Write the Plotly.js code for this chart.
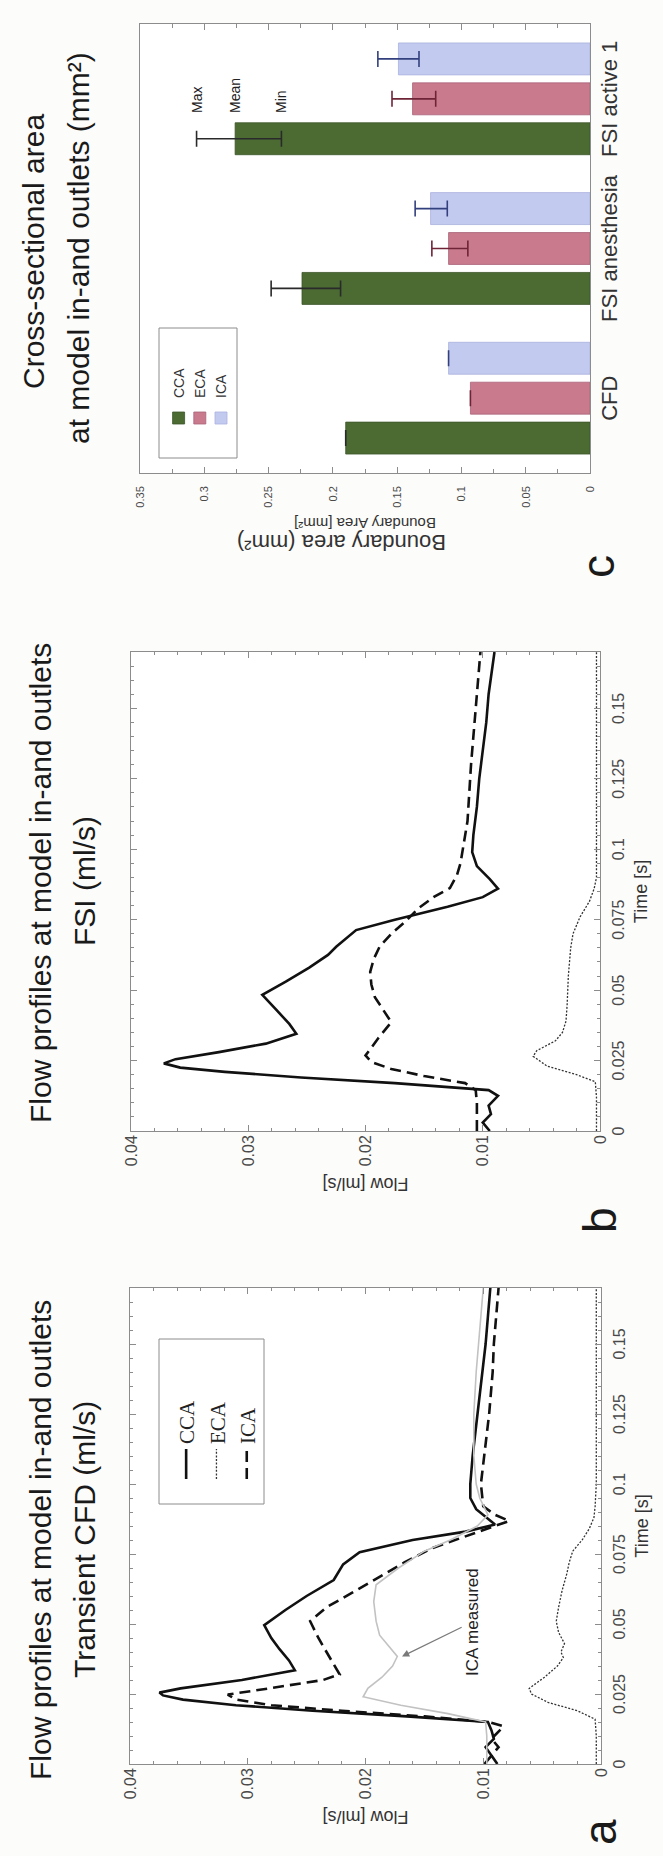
<!DOCTYPE html>
<html>
<head>
<meta charset="utf-8">
<script src="https://cdn.plot.ly/plotly-3.0.1.min.js"></script>
<style>
html,body{margin:0;padding:0;background:#fcfcfa;}
#wrap{position:absolute;left:0;top:0;width:663px;height:1856px;overflow:hidden;background:#fcfcfa;}
#plot{position:absolute;left:0;top:0;width:1856px;height:663px;transform-origin:0 0;transform:translate(0px,1856px) rotate(-90deg);}
</style>
</head>
<body>
<div id="wrap"><div id="plot"></div></div>
<script>
// ---------- Panel a : transient CFD ----------
const tA_cca = [0,0.003,0.006,0.009,0.012,0.015,0.017,0.019,0.021,0.023,0.0245,0.0255,0.027,0.030,0.0335,0.037,0.041,0.045,0.0496,0.055,0.060,0.0657,0.0713,0.0756,0.080,0.083,0.0855,0.088,0.091,0.095,0.100,0.110,0.125,0.140,0.150,0.160,0.170];
const fA_cca = [0.0099,0.0093,0.0098,0.0091,0.0093,0.0096,0.0165,0.0245,0.031,0.0355,0.0372,0.0375,0.0357,0.0305,0.0260,0.0265,0.0273,0.0280,0.0286,0.0268,0.0250,0.0227,0.0219,0.0205,0.0160,0.0115,0.0090,0.0097,0.0106,0.0111,0.0111,0.0109,0.0105,0.0101,0.0098,0.0096,0.0094];

const tA_eca = [0,0.010,0.016,0.019,0.022,0.025,0.027,0.031,0.035,0.038,0.040,0.043,0.047,0.051,0.056,0.062,0.068,0.072,0.076,0.080,0.084,0.088,0.092,0.100,0.120,0.140,0.170];
const fA_eca = [0.0004,0.0004,0.0005,0.0020,0.0045,0.0059,0.0061,0.0048,0.0037,0.0032,0.0034,0.0031,0.0036,0.0038,0.0036,0.0033,0.0029,0.0027,0.0024,0.0016,0.0010,0.0006,0.0005,0.0004,0.0004,0.0004,0.0004];

const tA_ica = [0,0.003,0.006,0.009,0.012,0.0135,0.015,0.017,0.019,0.021,0.023,0.0248,0.027,0.030,0.032,0.035,0.040,0.045,0.051,0.056,0.061,0.067,0.072,0.077,0.081,0.084,0.0868,0.089,0.092,0.100,0.110,0.125,0.140,0.150,0.160,0.170];
const fA_ica = [0.0088,0.0093,0.0087,0.0093,0.0086,0.0083,0.0095,0.0150,0.0220,0.0280,0.0310,0.0317,0.0282,0.0236,0.0222,0.0226,0.0233,0.0240,0.0247,0.0233,0.0212,0.0187,0.0167,0.0144,0.0117,0.0095,0.0078,0.0090,0.0100,0.0102,0.0099,0.0095,0.0092,0.0091,0.0089,0.0087];

const tA_meas = [0,0.010,0.015,0.018,0.021,0.024,0.027,0.031,0.035,0.0384,0.042,0.046,0.051,0.058,0.064,0.070,0.076,0.080,0.085,0.089,0.095,0.100,0.110,0.125,0.140,0.150,0.160,0.170];
const fA_meas = [0.0097,0.0097,0.0098,0.0130,0.0170,0.0202,0.0198,0.0186,0.0177,0.0173,0.0180,0.0188,0.0191,0.0193,0.0191,0.0172,0.0150,0.0128,0.0105,0.0096,0.0103,0.0106,0.0108,0.0108,0.0106,0.0104,0.0102,0.0100];

// ---------- Panel b : FSI ----------
const tB_cca = [0,0.003,0.006,0.009,0.0125,0.0145,0.017,0.019,0.021,0.0225,0.024,0.0255,0.028,0.031,0.0345,0.038,0.043,0.0483,0.053,0.058,0.0625,0.0654,0.0713,0.0750,0.0796,0.0830,0.0860,0.0894,0.0940,0.0990,0.105,0.115,0.125,0.135,0.145,0.155,0.170];
const fB_cca = [0.0094,0.0100,0.0093,0.0095,0.0087,0.0095,0.0175,0.0255,0.0320,0.0358,0.0372,0.0362,0.0325,0.0285,0.0259,0.0265,0.0276,0.0288,0.0268,0.0248,0.0232,0.0225,0.0208,0.0175,0.0130,0.0100,0.0087,0.0094,0.0105,0.0109,0.0108,0.0105,0.0103,0.0100,0.0097,0.0095,0.0090];

const tB_eca = [0,0.012,0.0175,0.020,0.023,0.0265,0.0285,0.032,0.035,0.039,0.045,0.055,0.065,0.070,0.076,0.0815,0.086,0.090,0.095,0.110,0.130,0.150,0.170];
const fB_eca = [0.0003,0.0003,0.0004,0.0020,0.0045,0.0057,0.0054,0.0038,0.0032,0.0029,0.0028,0.0027,0.0025,0.0023,0.0017,0.0009,0.0005,0.0003,0.0003,0.0003,0.0003,0.0003,0.0003];

const tB_ica = [0,0.010,0.0145,0.017,0.0195,0.022,0.0245,0.0268,0.029,0.033,0.0386,0.043,0.0475,0.052,0.0565,0.061,0.0654,0.070,0.0743,0.079,0.083,0.0862,0.0908,0.095,0.110,0.130,0.150,0.170];
const fB_ica = [0.0105,0.0105,0.0106,0.0115,0.0150,0.0178,0.0195,0.0200,0.0196,0.0189,0.0178,0.0185,0.0192,0.0195,0.0196,0.0193,0.0188,0.0178,0.0166,0.0155,0.0142,0.0128,0.0122,0.0119,0.0113,0.0110,0.0106,0.0102];

// ---------- Panel c : cross-sectional area ----------
const categories = ['CFD','FSI anesthesia','FSI active 1'];
const ccaMean = [0.190,0.224,0.276];
const ccaMax  = [0.190,0.248,0.306];
const ccaMin  = [0.190,0.194,0.240];
const ecaMean = [0.093,0.110,0.138];
const ecaMax  = [0.093,0.123,0.154];
const ecaMin  = [0.093,0.095,0.120];
const icaMean = [0.110,0.124,0.149];
const icaMax  = [0.110,0.136,0.165];
const icaMin  = [0.110,0.111,0.133];

const timeTicks = [0,0.025,0.05,0.075,0.1,0.125,0.15];
const timeTickText = ['0','0.025','0.05','0.075','0.1','0.125','0.15'];
const flowTicks = [0,0.01,0.02,0.03,0.04];
const flowTickText = ['0','0.01','0.02','0.03','0.04'];
const areaTicks = [0,0.05,0.1,0.15,0.2,0.25,0.3,0.35];
const areaTickText = ['0','0.05','0.1','0.15','0.2','0.25','0.3','0.35'];

const FONT = 'Liberation Sans, Arial, Helvetica, sans-serif';
const W = 1856, H = 663;
const px = v => v / W;           // horizontal pixel -> paper
const py = v => 1 - v / H;       // vertical pixel (from top) -> paper

const lineStyles = {
  cca: {color:'#111', width:2.6, dash:'solid'},
  eca: {color:'#333', width:1.3, dash:'2px,1.6px'},
  ica: {color:'#111', width:2.6, dash:'11px,6px'},
  meas:{color:'#c2c2c2', width:1.6, dash:'solid'}
};

const traces = [
  {x:tA_cca, y:fA_cca, name:'CCA', type:'scatter', mode:'lines', line:lineStyles.cca, xaxis:'x', yaxis:'y', legend:'legend'},
  {x:tA_eca, y:fA_eca, name:'ECA', type:'scatter', mode:'lines', line:lineStyles.eca, xaxis:'x', yaxis:'y', legend:'legend'},
  {x:tA_ica, y:fA_ica, name:'ICA', type:'scatter', mode:'lines', line:lineStyles.ica, xaxis:'x', yaxis:'y', legend:'legend'},
  {x:tA_meas, y:fA_meas, name:'ICA measured', type:'scatter', mode:'lines', line:lineStyles.meas, xaxis:'x', yaxis:'y', showlegend:false},
  {x:tB_cca, y:fB_cca, name:'CCA', type:'scatter', mode:'lines', line:lineStyles.cca, xaxis:'x2', yaxis:'y2', showlegend:false},
  {x:tB_eca, y:fB_eca, name:'ECA', type:'scatter', mode:'lines', line:lineStyles.eca, xaxis:'x2', yaxis:'y2', showlegend:false},
  {x:tB_ica, y:fB_ica, name:'ICA', type:'scatter', mode:'lines', line:lineStyles.ica, xaxis:'x2', yaxis:'y2', showlegend:false}
];

function errPlus(mx, mean){ return mx.map((v,i)=>v-mean[i]); }
function errMinus(mn, mean){ return mean.map((v,i)=>v-mn[i]); }

const barSeries = [
  {name:'CCA', mean:ccaMean, mx:ccaMax, mn:ccaMin, color:'#4b6b33', edge:'#3c5629', err:'#2a2a2a'},
  {name:'ECA', mean:ecaMean, mx:ecaMax, mn:ecaMin, color:'#c97b8d', edge:'#a9627a', err:'#6e2436'},
  {name:'ICA', mean:icaMean, mx:icaMax, mn:icaMin, color:'#c3caf0', edge:'#a9b1de', err:'#33407e'}
];
barSeries.forEach(s=>{
  traces.push({
    type:'bar', name:s.name, x:categories, y:s.mean, xaxis:'x3', yaxis:'y3', legend:'legend2',
    marker:{color:s.color, line:{color:s.edge, width:0.8}},
    error_y:{type:'data', symmetric:false, array:errPlus(s.mx,s.mean), arrayminus:errMinus(s.mn,s.mean),
             color:s.err, thickness:1.6, width:8}
  });
});

const axisCommon = {
  showline:true, linecolor:'#8c8c8c', linewidth:1, mirror:'allticks',
  ticks:'inside', tickcolor:'#8c8c8c', showgrid:false, zeroline:false,
  tickfont:{family:FONT, size:16, color:'#4a4a4a'}
};

function timeAxis(domain, anchor){
  return Object.assign({}, axisCommon, {
    domain:domain, anchor:anchor, range:[0,0.17], tickvals:timeTicks, ticktext:timeTickText,
    ticklen:6, ticklabelstandoff:4,
    minor:{dtick:0.005, tick0:0, ticks:'inside', ticklen:3, tickcolor:'#8c8c8c'},
    title:{text:'Time [s]', font:{family:FONT, size:18, color:'#333'}, standoff:8}
  });
}
function flowAxis(domain, anchor){
  return Object.assign({}, axisCommon, {
    domain:domain, anchor:anchor, range:[0,0.04], tickvals:flowTicks, ticktext:flowTickText,
    ticklen:6, ticklabelstandoff:0,
    minor:{dtick:0.002, tick0:0, ticks:'inside', ticklen:3, tickcolor:'#8c8c8c'},
    title:{text:'Flow [ml/s]', font:{family:FONT, size:18, color:'#333'}, standoff:6}
  });
}

const titleFont = {family:FONT, size:30, color:'#1a1a1a'};
const letterFont = {family:FONT, size:46, color:'#1a1a1a'};

const annotations = [
  {text:'Flow profiles at model in-and outlets', x:px(316), y:py(40)},
  {text:'Transient CFD (ml/s)', x:px(316), y:py(85)},
  {text:'Flow profiles at model in-and outlets', x:px(973), y:py(40)},
  {text:'FSI (ml/s)', x:px(975), y:py(85)},
  {text:'Cross-sectional area', x:px(1604), y:py(33)},
  {text:'at model in-and outlets (mm²)', x:px(1608), y:py(78)}
].map(a=>Object.assign({xref:'paper', yref:'paper', xanchor:'center', yanchor:'middle', showarrow:false, font:titleFont}, a));

[['a',24,600],['b',636,600],['c',1289,598]].forEach(([t,x,y])=>{
  annotations.push({text:t, xref:'paper', yref:'paper', x:px(x), y:py(y), xanchor:'center', yanchor:'middle', showarrow:false, font:letterFont});
});

annotations.push({
  text:'ICA measured', xref:'x', yref:'y', x:0.0384, y:0.0169, axref:'x', ayref:'y', ax:0.0508, ay:0.0109,
  showarrow:true, arrowhead:2, arrowsize:1.2, arrowwidth:1.2, arrowcolor:'#7a7a7a',
  font:{family:FONT, size:17, color:'#222'}
});

[['Max', ccaMax[2]], ['Mean', ccaMean[2]], ['Min', ccaMin[2]]].forEach(([t,v])=>{
  annotations.push({text:t, xref:'x3', yref:'y3', x:1.89, y:v, xanchor:'left', yanchor:'middle', showarrow:false,
    font:{family:FONT, size:14, color:'#222'}});
});

annotations.push({text:'Boundary area (mm²)', xref:'paper', yref:'paper', x:px(1313), y:py(342),
  xanchor:'center', yanchor:'middle', textangle:-90, showarrow:false, font:{family:FONT, size:22, color:'#333'}});

const shapes = [
  {type:'rect', xref:'paper', yref:'paper', x0:px(352), x1:px(517), y0:py(264), y1:py(159), line:{color:'#8c8c8c', width:1}},
  {type:'rect', xref:'paper', yref:'paper', x0:px(1398), x1:px(1528), y0:py(237), y1:py(159), line:{color:'#8c8c8c', width:1}}
];

const layout = {
  width:W, height:H, margin:{l:0,r:0,t:0,b:0},
  paper_bgcolor:'#fcfcfa', plot_bgcolor:'#ffffff',
  font:{family:FONT, color:'#333'},
  barmode:'group', bargap:0.2, bargroupgap:0.2,
  xaxis: timeAxis([px(92), px(568)], 'y'),
  yaxis: flowAxis([1-601/H, 1-130/H], 'x'),
  xaxis2: timeAxis([px(725), px(1204)], 'y2'),
  yaxis2: flowAxis([1-600/H, 1-131/H], 'x2'),
  xaxis3: Object.assign({}, axisCommon, {
    domain:[px(1383), px(1832)], anchor:'y3', type:'category', categoryorder:'array', categoryarray:categories,
    range:[-0.5,2.5], ticks:'', mirror:true, ticklabelstandoff:0,
    tickfont:{family:FONT, size:22, color:'#333'}
  }),
  yaxis3: Object.assign({}, axisCommon, {
    domain:[1-590/H, 1-140/H], anchor:'x3', range:[0,0.35], tickvals:areaTicks, ticktext:areaTickText,
    ticklen:6, ticklabelstandoff:10,
    minor:{dtick:0.025, tick0:0, ticks:'inside', ticklen:4, tickcolor:'#8c8c8c'},
    tickfont:{family:FONT, size:11, color:'#4a4a4a'},
    title:{text:'Boundary Area [mm²]', font:{family:FONT, size:15, color:'#333'}, standoff:6}
  }),
  legend:{x:px(372), y:py(166), xanchor:'left', yanchor:'top', bgcolor:'rgba(0,0,0,0)', borderwidth:0,
          font:{family:'Liberation Serif, Times New Roman, serif', size:21, color:'#222'}, tracegroupgap:0, itemwidth:30},
  legend2:{x:px(1418), y:py(163), xanchor:'left', yanchor:'top', bgcolor:'rgba(0,0,0,0)', borderwidth:0,
          font:{family:FONT, size:14, color:'#333'}, tracegroupgap:0},
  annotations:annotations,
  shapes:shapes
};

Plotly.newPlot('plot', traces, layout, {staticPlot:true, displayModeBar:false});
</script>
</body>
</html>
